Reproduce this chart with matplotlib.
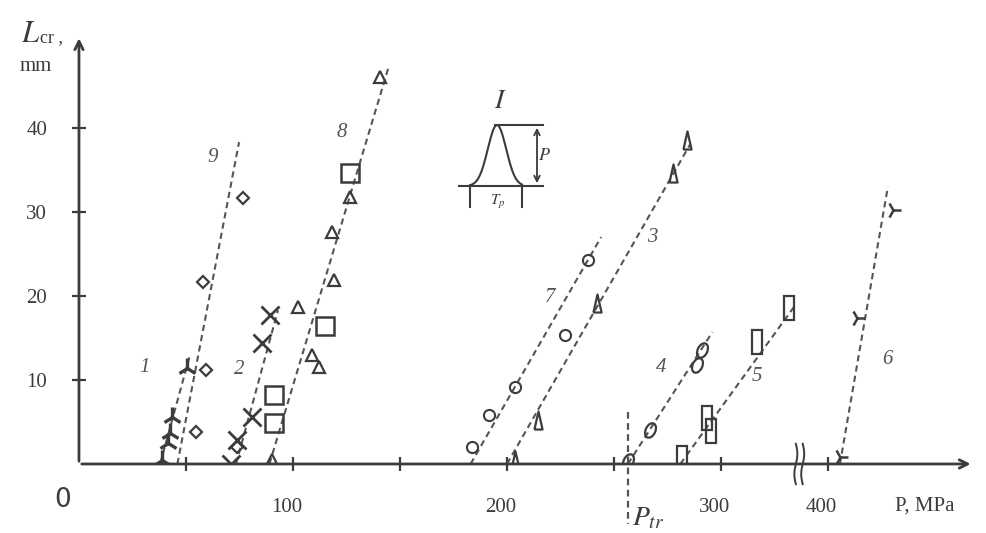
import numpy as np
import matplotlib
matplotlib.use('Agg')
import matplotlib.pyplot as plt
from matplotlib.markers import MarkerStyle
from matplotlib.path import Path
from matplotlib.transforms import Affine2D

plt.rcParams['mathtext.fontset'] = 'stix'

# P in MPa, L_cr in mm
p1 = [38.8, 41.6, 42.5, 43.5, 50.5]
l1 = [0.5, 2.5, 3.7, 5.6, 11.4]
p9 = [54.7, 59.3, 58.0, 76.6, 73.8]
l9 = [3.8, 11.2, 21.7, 31.7, 2.0]
p2 = [71.0, 73.8, 80.8, 85.5, 89.3]
l2 = [0.0, 2.9, 5.6, 14.4, 17.7]
p8_sq = [91.0, 91.0, 115.0, 126.6]
l8_sq = [4.9, 8.2, 16.4, 34.6]
p8_tri = [90.2, 102.3, 108.9, 112.3, 118.2, 119.3, 126.6, 140.7]
l8_tri = [0.5, 18.7, 13.0, 11.5, 27.6, 21.9, 31.8, 46.1]
p7 = [183.6, 191.6, 203.7, 227.0, 237.9]
l7 = [2.0, 5.8, 9.2, 15.4, 24.3]
p3 = [203.7, 214.5, 242.0, 277.6, 284.0]
l3 = [0.5, 5.2, 19.2, 34.6, 38.6]
p4 = [256.5, 266.8, 288.8, 291.0]
l4 = [0.4, 4.0, 11.8, 13.6]
p5 = [282.0, 293.5, 295.3, 316.8, 331.8]
l5 = [0.7, 5.5, 3.9, 14.5, 18.6]
p6 = [405.6, 413.6, 430.4]
l6 = [0.8, 17.4, 30.2]

# dashed trend lines (end points)
fit_p = {'1': [37.9, 51.9], '9': [46.0, 74.8], '2': [73.4, 93.0], '8': [89.0, 145.0],
         '7': [183.0, 244.0], '3': [200.0, 285.5], '4': [256.5, 296.0],
         '5': [281.0, 335.0], '6': [405.6, 428.0]}
fit_l = {'1': [0, 13.0], '9': [0, 38.3], '2': [0, 18.3], '8': [0, 47.5],
         '7': [0, 27.0], '3': [0, 38.0], '4': [0, 15.7], '5': [0, 19.0], '6': [0, 33.0]}
curve_labels = {'1': (30.8, 11.5), '2': (75.0, 11.2), '9': (62.6, 36.5), '8': (123.0, 39.4),
                '7': (220.0, 19.8), '3': (268.0, 27.0), '4': (272.0, 11.5),
                '5': (317.0, 10.4), '6': (427.6, 12.4)}
p_tr = 256.5
x_ticks = [50, 100, 150, 200, 250, 300, 400]
x_tick_labels = [100, 200, 300, 400]
y_ticks = [10, 20, 30, 40]

GAP = 50  # axis break between 350 and 400


def bx(p):
    p = np.asarray(p, dtype=float)
    return np.where(p >= 380, p - GAP, p)


C = '#3c3c3c'
CL = '#555555'
serif = 'Liberation Serif'

fig = plt.figure(figsize=(9.86, 5.33), dpi=100)
ax = fig.add_axes([0.0801, 0.1295, 0.9072, 0.8040])
ax.set_xlim(0, 418)
ax.set_ylim(0, 51)
for s in ax.spines.values():
    s.set_visible(False)

# axes with arrows
ax.annotate('', xy=(1.0, 0), xytext=(0, 0), xycoords='axes fraction',
            arrowprops=dict(arrowstyle='->', lw=2, color=C, mutation_scale=15))
ax.annotate('', xy=(0, 1.0), xytext=(0, 0), xycoords='axes fraction',
            arrowprops=dict(arrowstyle='->', lw=2, color=C, mutation_scale=15))

ax.set_xticks(bx(x_ticks))
ax.set_xticklabels([])
ax.set_yticks(y_ticks)
ax.set_yticklabels([str(v) for v in y_ticks], family=serif, fontsize=15, color=C)
ax.tick_params(axis='both', direction='inout', length=10, width=1.6, color=C)
ax.tick_params(axis='y', pad=18)

for v in x_tick_labels:
    ax.text(bx(v) - 3, -5.2, str(v), ha='center', va='center', family=serif,
            fontsize=15, color=C, clip_on=False)
ax.text(-7.5, -4.3, '0', ha='center', va='center', fontsize=19, color=C, clip_on=False)
ax.text(395, -5.0, 'P, MPa', ha='center', va='center', family=serif, fontsize=15,
        color=C, clip_on=False)
ax.text(-22.5, 51.2, r'$L$', fontsize=22, color=C, ha='center', va='center',
        clip_on=False)
ax.text(-18.0, 50.8, 'cr ,', fontsize=13, family=serif, color=C, ha='left', va='center',
        clip_on=False)
ax.text(-20.0, 47.3, 'mm', fontsize=15, family=serif, color=C, ha='center', va='center',
        clip_on=False)

# break mark on x axis
tt = np.linspace(-1, 1, 40)
for dx in (-2.0, 1.2):
    ax.plot(337 + dx + 0.7 * np.sin(tt * np.pi), tt * 2.4, color=C, lw=1.4,
            clip_on=False)

# trend lines
for k in fit_p:
    ax.plot(bx(fit_p[k]), fit_l[k], ls=(0, (3, 2)), color=CL, lw=1.5)
ax.plot([p_tr, p_tr], [6.2, -7.2], ls=(0, (3, 2)), color=CL, lw=1.6, clip_on=False)
ax.text(p_tr + 2, -6.3, r'$P_{tr}$', fontsize=20, color=C, ha='left', va='center',
        clip_on=False)

for k, (x, y) in curve_labels.items():
    ax.text(bx(x), y, k, family=serif, style='italic', fontsize=15, color='#555555',
            ha='center', va='center')

# markers
kw = dict(ls='none', color=C, mfc='none')
ax.plot(p1, l1, marker='2', ms=14, mew=2.4, **kw)
ax.plot(p9, l9, marker='D', ms=6.5, mew=1.6, **kw)
ax.plot(p2, l2, marker='x', ms=13, mew=2.0, **kw)
ax.plot(p8_sq, l8_sq, marker='s', ms=13, mew=1.8, **kw)
ax.plot(p8_tri, l8_tri, marker='^', ms=8, mew=1.6, **kw)
ax.plot(p7, l7, marker='o', ms=8, mew=1.5, **kw)
thin_tri = Path([(-0.45, -1), (0.45, -1), (0, 1), (-0.45, -1)])
ax.plot(p3, l3, marker=thin_tri, ms=13, mew=1.6, **kw)
ell = MarkerStyle('o', transform=Affine2D().scale(0.7, 1.1).rotate_deg(-25))
ax.plot(p4, l4, marker=ell, ms=10, mew=1.6, **kw)
rect = MarkerStyle('s', transform=Affine2D().scale(0.55, 1.25))
ax.plot(p5, l5, marker=rect, ms=14, mew=1.6, **kw)
ax.plot(bx(p6), l6, marker='4', ms=12, mew=1.8, **kw)

# pulse sketch
ins = fig.add_axes([458 / 986, 1 - 212 / 533, 90 / 986, 95 / 533])
ins.set_xlim(0, 90)
ins.set_ylim(0, 95)
ins.axis('off')
xs = np.linspace(12, 64, 200)
ins.plot(xs, 26 + 61 * np.exp(-((xs - 39) / 13.0) ** 2), color=C, lw=1.5)
ins.plot([0, 85], [26, 26], color=C, lw=1.5)
ins.plot([37, 85], [87, 87], color=C, lw=1.5)
ins.plot([12, 12], [26, 5], color=C, lw=1.5)
ins.plot([64, 64], [26, 5], color=C, lw=1.5)
ins.annotate('', xy=(79, 87), xytext=(79, 26),
             arrowprops=dict(arrowstyle='<->', lw=1.3, color=C))
ins.text(86, 57, r'$P$', fontsize=13, color=C, ha='center', va='center', clip_on=False)
ins.text(40, 10, r'$T_p$', fontsize=11, color=C, ha='center', va='center')
ins.text(42, 112, r'$I$', fontsize=20, color=C, ha='center', va='center', clip_on=False)

plt.savefig('out.png', dpi=100)
